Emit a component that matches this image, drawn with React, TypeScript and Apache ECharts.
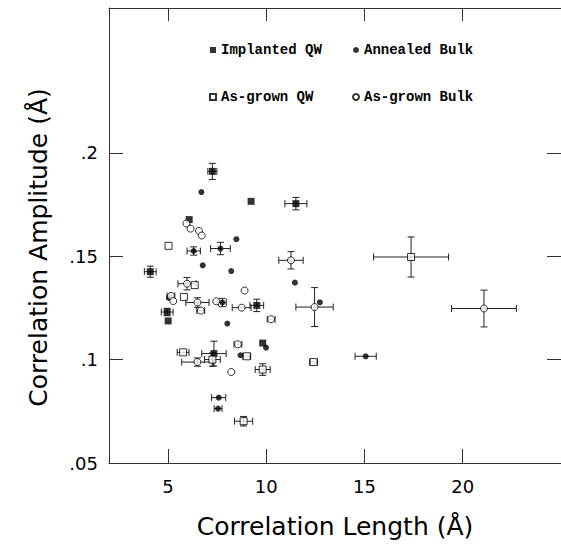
import React, { useEffect, useRef } from "react";
import * as echarts from "echarts";

// Implanted QW (filled squares): x, y, x half-error, y half-error
const implX = [7.26, 9.23, 11.51, 6.08, 4.1, 9.52, 4.96, 5.01, 9.82, 7.34];
const implY = [0.191, 0.1765, 0.1754, 0.1677, 0.1425, 0.1262, 0.123, 0.1187, 0.108, 0.1029];
const implXe = [0.23, 0, 0.56, 0, 0.3, 0.35, 0.3, 0, 0, 0.62];
const implYe = [0.0039, 0, 0.003, 0, 0.0027, 0.003, 0.0018, 0, 0, 0.006];

// Annealed Bulk (filled circles)
const annX = [6.7, 8.48, 6.31, 7.67, 6.77, 8.22, 11.46, 5.05, 7.77, 8.02, 12.73, 9.99, 8.69, 15.06, 7.58, 7.55];
const annY = [0.181, 0.1582, 0.1525, 0.1537, 0.1456, 0.1428, 0.1372, 0.1298, 0.1276, 0.1174, 0.1277, 0.1058, 0.1021, 0.1016, 0.0816, 0.0763];
const annXe = [0, 0, 0.34, 0.5, 0, 0, 0, 0, 0.2, 0, 0, 0, 0, 0.54, 0.36, 0.2];
const annYe = [0, 0, 0.002, 0.003, 0, 0, 0, 0, 0.002, 0, 0, 0, 0, 0, 0, 0];

// As-grown QW (open squares)
const agqX = [5.03, 6.36, 5.81, 17.37, 5.77, 7.26, 9.01, 9.82, 12.41, 8.85];
const agqY = [0.155, 0.136, 0.1303, 0.1496, 0.1035, 0.1, 0.1016, 0.0952, 0.0988, 0.0702];
const agqXe = [0, 0, 0, 1.91, 0.3, 0.4, 0.2, 0.38, 0.2, 0.46];
const agqYe = [0, 0, 0, 0.0097, 0, 0.0032, 0, 0.0028, 0, 0.0023];

// As-grown Bulk (open circles)
const agbX = [5.94, 6.15, 6.58, 6.72, 11.26, 5.97, 8.9, 5.15, 5.27, 6.5, 6.67, 7.46, 8.75, 10.25, 12.46, 21.08, 8.56, 8.22, 6.5];
const agbY = [0.1658, 0.1633, 0.1622, 0.16, 0.148, 0.1367, 0.1334, 0.1308, 0.1283, 0.1276, 0.1237, 0.1282, 0.1251, 0.1195, 0.1254, 0.1247, 0.1074, 0.094, 0.0988];
const agbXe = [0, 0, 0, 0, 0.62, 0.46, 0, 0.2, 0, 0.59, 0.2, 0, 0.48, 0.2, 0.95, 1.65, 0.2, 0, 0.8];
const agbYe = [0, 0, 0, 0, 0.0042, 0.003, 0, 0, 0, 0.0023, 0, 0, 0, 0, 0.0094, 0.0089, 0, 0, 0.002];

const xTicks = [5, 10, 15, 20];
const yTicks = [0.05, 0.1, 0.15, 0.2];

const zip = (xs: number[], ys: number[]) => xs.map((x, i) => [x, ys[i]]);
const zip4 = (xs: number[], ys: number[], xe: number[], ye: number[]) =>
  xs.map((x, i) => [x, ys[i], xe[i], ye[i]]);

function renderErr(_params: any, api: any) {
  const x = api.value(0);
  const y = api.value(1);
  const xe = api.value(2);
  const ye = api.value(3);
  const cap = 3.5;
  const style = { stroke: "#222", lineWidth: 1 };
  const children: any[] = [];
  const ln = (x1: number, y1: number, x2: number, y2: number) =>
    children.push({ type: "line", shape: { x1, y1, x2, y2 }, style });
  if (xe > 0) {
    const l = api.coord([x - xe, y]);
    const r = api.coord([x + xe, y]);
    ln(l[0], l[1], r[0], r[1]);
    ln(l[0], l[1] - cap, l[0], l[1] + cap);
    ln(r[0], r[1] - cap, r[0], r[1] + cap);
  }
  if (ye > 0) {
    const t = api.coord([x, y + ye]);
    const b = api.coord([x, y - ye]);
    ln(t[0], t[1], b[0], b[1]);
    ln(t[0] - cap, t[1], t[0] + cap, t[1]);
    ln(b[0] - cap, b[1], b[0] + cap, b[1]);
  }
  return { type: "group", children };
}

export default function App() {
  const ref = useRef<HTMLDivElement>(null);
  useEffect(() => {
    if (!ref.current) return;
    const chart = echarts.init(ref.current, undefined, { renderer: "svg" });
    const axisLine = { show: true, lineStyle: { color: "#333", width: 1 } };
    const tickFont = { fontFamily: "DejaVu Sans", fontSize: 18, color: "#000" };
    const titleFont = { fontFamily: "DejaVu Sans", fontSize: 25, color: "#000", fontWeight: "normal" as any };
    const legendText = { fontFamily: "Liberation Mono", fontWeight: "bold" as any, fontSize: 14, color: "#000", lineHeight: 16 };
    const errSeries = (name: string, data: number[][]) => ({
      type: "custom",
      name: name + " err",
      renderItem: renderErr,
      data,
      encode: { x: 0, y: 1 },
      z: 1,
      silent: true,
      clip: false,
    });
    chart.setOption({
      animation: false,
      backgroundColor: "#fff",
      grid: { left: 109, right: -2, top: 8, bottom: 93, containLabel: false },
      legend: [
        {
          data: ["Implanted QW", "As-grown QW"],
          orient: "vertical",
          left: 204,
          top: 37,
          itemGap: 31,
          itemWidth: 6,
          itemHeight: 6,
          selectedMode: false,
          textStyle: legendText,
        },
        {
          data: ["Annealed Bulk", "As-grown Bulk"],
          orient: "vertical",
          left: 347,
          top: 37,
          itemGap: 31,
          itemWidth: 6,
          itemHeight: 6,
          selectedMode: false,
          textStyle: legendText,
        },
      ],
      xAxis: [
        {
          type: "value",
          min: 2,
          max: 25,
          position: "bottom",
          axisLine,
          axisTick: { show: true, inside: true, length: 14, customValues: xTicks, lineStyle: { color: "#333" } },
          axisLabel: { show: true, customValues: xTicks, margin: 14, ...tickFont },
          splitLine: { show: false },
          name: "Correlation Length (Å)",
          nameLocation: "middle",
          nameGap: 51,
          nameTextStyle: titleFont,
        },
        {
          type: "value",
          min: 2,
          max: 25,
          position: "top",
          axisLine,
          axisTick: { show: true, inside: true, length: 13, customValues: xTicks, lineStyle: { color: "#333" } },
          axisLabel: { show: false },
          splitLine: { show: false },
        },
      ],
      yAxis: [
        {
          type: "value",
          min: 0.05,
          max: 0.27,
          position: "left",
          axisLine,
          axisTick: { show: true, inside: true, length: 14, customValues: yTicks, lineStyle: { color: "#333" } },
          axisLabel: {
            show: true,
            customValues: yTicks,
            margin: 11,
            formatter: (v: number) => String(v).replace(/^0/, ""),
            ...tickFont,
          },
          splitLine: { show: false },
          name: "Correlation Amplitude (Å)",
          nameLocation: "middle",
          nameGap: 58,
          nameTextStyle: { ...titleFont, padding: [0, 24, 0, 0] },
        },
        {
          type: "value",
          min: 0.05,
          max: 0.27,
          position: "right",
          axisLine,
          axisTick: { show: true, inside: true, length: 14, customValues: yTicks, lineStyle: { color: "#333" } },
          axisLabel: { show: false },
          splitLine: { show: false },
        },
      ],
      series: [
        errSeries("Implanted QW", zip4(implX, implY, implXe, implYe)),
        errSeries("Annealed Bulk", zip4(annX, annY, annXe, annYe)),
        errSeries("As-grown QW", zip4(agqX, agqY, agqXe, agqYe)),
        errSeries("As-grown Bulk", zip4(agbX, agbY, agbXe, agbYe)),
        {
          type: "scatter",
          name: "Implanted QW",
          data: zip(implX, implY),
          symbol: "rect",
          symbolSize: 7,
          itemStyle: { color: "#000" },
          z: 3,
        },
        {
          type: "scatter",
          name: "Annealed Bulk",
          data: zip(annX, annY),
          symbol: "circle",
          symbolSize: 6,
          itemStyle: { color: "#000" },
          z: 3,
        },
        {
          type: "scatter",
          name: "As-grown QW",
          data: zip(agqX, agqY),
          symbol: "rect",
          symbolSize: 7,
          itemStyle: { color: "#fff", borderColor: "#000", borderWidth: 1 },
          z: 3,
        },
        {
          type: "scatter",
          name: "As-grown Bulk",
          data: zip(agbX, agbY),
          symbol: "circle",
          symbolSize: 7,
          itemStyle: { color: "#fff", borderColor: "#000", borderWidth: 1 },
          z: 3,
        },
      ],
    });
    return () => chart.dispose();
  }, []);
  return (
    <div
      ref={ref}
      style={{ position: "absolute", left: 0, top: 0, width: 561, height: 556 }}
    />
  );
}
